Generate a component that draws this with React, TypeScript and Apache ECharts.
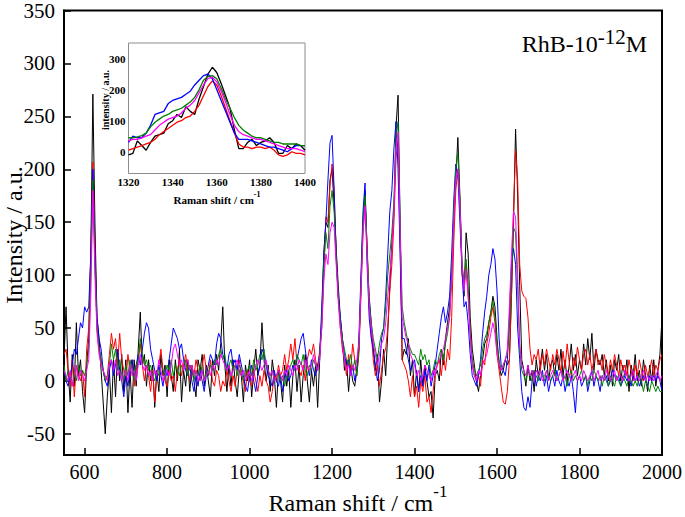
import React, { useEffect, useRef } from "react";
import * as echarts from "echarts";

// Main spectrum: Raman shift 550..2000 cm-1 sampled every 5 cm-1
const SHIFT_START = 550;
const SHIFT_STEP = 5;

const blackSpectrum = [
  20, 70, 10, -20, 25, -5, 55, 5, 20, -10,
  -30, 15, 40, 120, 271, 150, 60, 40, 10, -20,
  -50, -15, 10, -30, 20, -15, 30, 0, 25, -10,
  20, -30, 10, -25, 20, -5, 30, 65, 15, 25,
  -5, 20, 0, 15, -25, 10, -10, 25, 5, 15,
  -15, 20, 5, -10, 20, 0, 30, -20, 10, -5,
  20, -10, 15, 0, -15, 20, 10, 25, -5, 15,
  0, -15, 20, 5, 25, 10, 35, 70, 15, -10,
  15, -5, 20, 0, -15, 10, 5, -20, 15, 0,
  20, -15, 10, 30, 5, 15, 55, 20, 0, 15,
  -10, 20, 5, -25, 10, 0, -20, 15, -5, 10,
  -25, 5, 20, -10, 15, -20, 5, 25, 0, -20,
  10, -5, 15, -25, 20, 60, 120, 150, 145, 190,
  200, 165, 125, 90, 60, 40, 10, 20, -10, 15,
  0, -5, 10, 30, 90, 150, 180, 120, 80, 55,
  30, 10, 25, -20, 0, 30, 5, 45, 90, 130,
  160, 240, 270, 150, 20, 30, 25, 40, 5, 20,
  -15, 10, -10, 20, -5, 15, 0, -15, -10, -35,
  5, 10, 0, 30, 15, 40, 55, 70, 100, 150,
  190, 230, 175, 110, 80, 140, 120, 60, 30, 15,
  0, -10, 5, 20, 35, 40, 55, 65, 80, 70,
  40, 15, 5, 10, 20, 15, 20, 80, 150, 238,
  175, 90, 20, 10, -5, 15, 0, 10, -10, 20,
  5, 15, 30, 10, 25, 0, 15, 20, 5, 25,
  10, 30, 5, 20, 0, 15, 35, 10, 25, 5,
  20, 10, 35, 15, 40, 20, 45, 10, 30, 20,
  15, 25, 5, 20, 0, 15, -5, 20, 10, 25,
  0, 15, 5, 20, -10, 15, 5, 25, 0, 10,
  -5, 20, 5, -10, 15, 0, 20, -5, 10, 25,
  60,
];

const redSpectrum = [
  25, 30, 10, -5, 20, -15, 15, 5, 0, 10,
  -15, 30, 50, 120, 207, 130, 50, 30, 20, 10,
  0, 5, 25, 45, 30, 40, 15, 45, 20, 10,
  0, 25, 10, 20, -5, 10, 20, 35, 15, 0,
  15, 5, -10, 10, -20, 5, 15, 30, 10, 0,
  -5, 10, 0, 5, -10, 10, 20, 5, 15, 25,
  10, 0, 15, 5, 20, 10, 0, 15, 25, 10,
  5, 20, 0, -5, 10, 5, -10, 0, -5, 10,
  0, -10, 5, -5, 10, 20, 5, 0, -10, 10,
  0, -5, 10, 0, -10, 5, -5, 10, 0, -5,
  -20, -10, 5, 0, 15, 5, 10, 25, 10, 20,
  35, 20, 40, 15, 10, 5, 15, 0, 20, 30,
  25, 35, 20, 10, 30, 50, 100, 155, 150, 185,
  205, 180, 120, 80, 50, 30, 20, 5, 25, 10,
  35, 20, 5, 25, 80, 140, 170, 130, 70, 45,
  20, 5, 15, -5, 10, 25, 30, 50, 85, 110,
  150, 210, 228, 130, 20, 15, 10, 0, -15, 5,
  -15, -5, -25, 0, -10, 5, -20, -15, -30, -10,
  10, 15, 20, 5, 25, 10, 30, 20, 60, 130,
  180, 200, 170, 100, 90, 110, 80, 50, 15, 5,
  0, 5, -5, 20, 15, 35, 45, 60, 70, 55,
  25, 10, -5, -20, -22, -10, 20, 80, 160, 218,
  190, 110, 85, 80, 78, 60, 30, 15, 25, 20,
  30, 10, 25, 15, 30, 20, 10, 25, 15, 30,
  20, 8, 28, 12, 35, 18, 5, 22, 14, 32,
  20, 10, 25, 30, 15, 25, 10, 20, 30, 15,
  20, 10, 25, 15, 5, 20, 10, 25, 15, 5,
  20, 10, 15, 5, 20, 10, 0, 15, 5, 20,
  10, 0, 15, 5, 10, 20, 5, 15, 10, 20,
  25,
];

const blueSpectrum = [
  10, 0, -5, 5, 15, 30, 25, 40, 55, 50,
  70, 65, 70, 120, 200, 120, 60, 40, 30, 10,
  0, -5, 10, 20, 5, 15, 30, 10, 0, -15,
  5, -5, 10, 20, 5, 15, 25, 15, 30, 45,
  55, 50, 30, 20, 10, 0, 15, 5, -5, 10,
  5, 20, 35, 50, 45, 40, 30, 35, 20, 10,
  5, 15, 0, -10, 5, -5, 10, 0, -10, 5,
  15, 25, 20, 15, 35, 45, 40, 25, 20, 10,
  25, 30, 15, 20, 10, 25, 15, 5, -5, -10,
  5, 15, 0, -10, 5, 15, 30, 25, 15, 5,
  0, -5, 10, 0, -5, 5, -10, 5, 10, 0,
  5, 15, 10, 20, 30, 40, 45, 30, 15, 5,
  20, 10, 5, 15, 25, 70, 120, 150, 190, 225,
  232, 180, 120, 80, 60, 40, 25, 15, 20, 5,
  15, 0, 10, 40, 100, 160, 187, 110, 60, 40,
  30, 15, 0, 10, 40, 50, 80, 120, 160, 180,
  220, 245, 200, 120, 40, 40, 30, 20, 10, 15,
  20, 5, -10, 5, -5, 10, 0, 15, -5, 5,
  15, 30, 45, 60, 70, 55, 65, 80, 120, 170,
  205, 195, 150, 105, 70, 75, 55, 25, 5, 0,
  -5, 5, 20, 45, 65, 80, 100, 110, 125, 115,
  85, 40, 15, 10, 5, 20, 60, 110, 125, 110,
  50, 20, -10, -25, -28, -15, -25, 0, 10, -5,
  5, 0, 10, -5, 5, -10, 0, 5, -5, 10,
  0, -5, 5, -10, 0, -5, 5, -10, -30, 0,
  5, -5, 0, 5, -10, 0, 10, -5, 5, 0,
  -10, 5, 0, 5, -5, 0, 10, 5, 0, 5,
  -5, 0, 5, 0, 5, -5, 5, 0, 5, -5,
  0, 5, 0, -5, 5, 0, 5, 0, 5, 0,
  -10,
];

const greenSpectrum = [
  15, 0, 10, 5, -5, 10, 0, 15, 5, 10,
  5, 15, 30, 100, 190, 110, 50, 30, 20, 10,
  0, 5, 15, 35, 20, 30, 10, 20, 5, 0,
  15, 5, 20, 10, 0, 15, 20, 40, 25, 15,
  20, 10, 15, 5, 0, 10, 5, 15, 10, 5,
  15, 10, 20, 5, 15, 10, 5, 15, 10, 20,
  5, 15, 10, 0, 10, 5, 15, 10, 0, 10,
  5, 15, 10, 20, 15, 25, 30, 20, 25, 10,
  15, 20, 10, 15, 5, 15, 10, 0, 5, 10,
  15, 5, 20, 10, 15, 25, 20, 30, 15, 10,
  5, 10, 0, 5, 10, 0, 5, -5, 5, 10,
  15, 20, 10, 25, 20, 15, 25, 10, 5, 15,
  10, 20, 15, 10, 25, 55, 110, 140, 125, 165,
  180, 160, 115, 80, 55, 40, 30, 20, 15, 25,
  10, 20, 5, 30, 90, 150, 175, 125, 75, 55,
  40, 30, 20, 35, 45, 50, 70, 100, 120, 140,
  170, 230, 245, 150, 70, 55, 45, 35, 30, 25,
  25, 20, 15, 30, 20, 25, 15, 20, 5, 10,
  20, 15, 25, 30, 20, 35, 45, 60, 100, 160,
  200, 215, 170, 110, 95, 115, 90, 45, 20, 10,
  5, 10, 15, 30, 40, 45, 55, 65, 75, 60,
  35, 20, 10, 15, 20, 25, 50, 100, 145, 140,
  90, 30, 10, 5, 0, 10, 5, 0, 10, 5,
  0, 10, 5, 0, 10, 5, 0, 5, 10, 0,
  5, 10, 0, 5, -5, 5, 10, 0, 5, 0,
  5, 10, 0, 5, -5, 5, 0, 10, 5, 0,
  5, -5, 5, 0, -5, 5, 0, -5, 5, 0,
  -5, 5, 0, -5, 5, 0, -5, 0, -5, 5,
  0, -10, 0, -5, -10, 0, -5, -10, -5, -10,
  -10,
];

const magentaSpectrum = [
  10, 5, 0, 10, -5, 5, 15, 0, 10, 5,
  0, 10, 20, 80, 180, 100, 45, 25, 15, 10,
  5, 0, 15, 20, 10, 20, 5, 10, 0, 5,
  10, 0, 15, 5, 10, 0, 15, 25, 15, 10,
  15, 5, 10, 0, 10, 5, 20, 10, 0, 5,
  10, 5, 15, 30, 35, 25, 15, 20, 10, 15,
  20, 10, 15, 5, 10, 0, 5, 10, 0, 5,
  10, 5, 15, 10, 20, 15, 25, 20, 15, 10,
  15, 5, 10, 15, 20, 10, 5, 10, 0, 5,
  10, 0, 5, 15, 20, 15, 10, 15, 20, 10,
  5, 10, 0, 5, 10, 5, 0, 10, 5, 15,
  10, 5, 15, 10, 20, 15, 10, 20, 15, 10,
  15, 25, 15, 10, 20, 50, 95, 120, 110, 140,
  150, 145, 110, 75, 50, 35, 20, 10, 15, 5,
  15, 10, 20, 35, 85, 140, 165, 115, 70, 50,
  35, 25, 15, 25, 35, 40, 55, 80, 100, 125,
  160, 220, 235, 140, 60, 50, 40, 35, 25, 20,
  15, 5, 10, 0, 5, 15, 10, 5, 0, 10,
  5, 15, 20, 25, 30, 40, 50, 60, 95, 150,
  190, 200, 165, 110, 85, 105, 80, 40, 15, 5,
  0, 10, 5, 15, 20, 25, 35, 45, 55, 45,
  25, 15, 10, 15, 20, 30, 70, 120, 160, 155,
  100, 35, 15, 10, 5, 15, 5, 10, 0, 10,
  5, 10, 0, 5, 10, 0, 5, 10, 5, 0,
  5, 10, 0, 5, 10, 5, 0, 5, 10, 0,
  5, 0, 10, 5, 0, 5, 10, 0, 5, 10,
  0, 5, 0, 10, 5, 0, 5, 10, 0, 5,
  5, 0, 10, 5, 0, 5, 10, 0, 5, 0,
  5, 10, 0, 5, 0, 5, 0, 5, 10, 0,
  5,
];

// Inset: 1320..1400 cm-1 sampled every 2 cm-1
const INSET_START = 1320;
const INSET_STEP = 2;

const blackInset = [
  -10, -5, 35, 20, 5, 30, 50, 55, 60, 90,
  100, 120, 110, 145, 130, 120, 170, 210, 250, 272,
  255, 220, 180, 140, 70, 10, 10, 30, 40, 20,
  30, 35, 45, 30, -5, -5, 20, 10, 25, 20,
  5,
];
const redInset = [
  5, 10, 15, 20, 25, 30, 40, 55, 65, 75,
  85, 95, 100, 110, 115, 130, 150, 180, 210, 228,
  215, 180, 140, 100, 60, 25, 15, 15, 10, 15,
  15, 10, 15, 5, -10, -15, -10, 0, -5, -5,
  -10,
];
const blueInset = [
  30, 50, 45, 45, 60, 85, 120, 125, 130, 155,
  165, 170, 175, 185, 195, 215, 230, 245, 250, 235,
  200, 165, 130, 95, 60, 40, 40, 40, 35, 30,
  25, 20, 15, 15, 10, 5, 0, 10, 20, 20,
  20,
];
const greenInset = [
  45, 45, 48, 52, 60, 80, 95, 105, 115, 120,
  130, 135, 140, 150, 160, 175, 200, 230, 242, 245,
  235, 205, 170, 140, 110, 85, 70, 60, 50, 45,
  45, 40, 35, 30, 30, 25, 25, 25, 25, 20,
  20,
];
const magentaInset = [
  35, 40, 40, 45, 50, 55, 70, 85, 95, 105,
  110, 115, 125, 140, 150, 165, 190, 215, 235, 240,
  225, 195, 160, 120, 85, 65, 55, 50, 45, 40,
  40, 35, 30, 25, 20, 15, 10, 10, 10, 5,
  0,
];

const mainXTicks = [600, 800, 1000, 1200, 1400, 1600, 1800, 2000];
const mainYTicks = [-50, 0, 50, 100, 150, 200, 250, 300, 350];
const insetYTicks = [0, 100, 200, 300];

const seriesColors = ["#000000", "#ff0000", "#0000ff", "#008000", "#ff00ff"];

const SERIF = '"Liberation Serif", "Times New Roman", serif';

function pair(values: number[], start: number, step: number) {
  return values.map((v, i) => [start + i * step, v]);
}

const plain = (v: number) => String(v);

export default function App() {
  const ref = useRef<HTMLDivElement>(null);
  useEffect(() => {
    if (!ref.current) return;
    const chart = echarts.init(ref.current, null, { renderer: "svg" });
    const mainSets = [blackSpectrum, redSpectrum, blueSpectrum, greenSpectrum, magentaSpectrum];
    const insetSets = [blackInset, redInset, blueInset, greenInset, magentaInset];

    const series: any[] = [];
    mainSets.forEach((vals, k) => {
      series.push({
        type: "line",
        xAxisIndex: 0,
        yAxisIndex: 0,
        data: pair(vals, SHIFT_START, SHIFT_STEP),
        showSymbol: false,
        symbol: "none",
        lineStyle: { color: seriesColors[k], width: 1 },
        itemStyle: { color: seriesColors[k] },
        z: 2 + k * 0.01,
      });
    });
    insetSets.forEach((vals, k) => {
      series.push({
        type: "line",
        xAxisIndex: 1,
        yAxisIndex: 1,
        data: pair(vals, INSET_START, INSET_STEP),
        showSymbol: false,
        symbol: "none",
        lineStyle: { color: seriesColors[k], width: 1.3 },
        itemStyle: { color: seriesColors[k] },
        z: 10,
      });
    });

    chart.setOption({
      animation: false,
      backgroundColor: "#ffffff",
      grid: [
        { left: 64, right: 20, top: 8, bottom: 62, show: true, borderColor: "#000", borderWidth: 2, z: 0 },
        {
          left: 128.5, top: 43, width: 176.5, height: 130.5,
          show: true, borderColor: "#8c8c8c", borderWidth: 1, backgroundColor: "#ffffff", z: 5,
        },
      ],
      xAxis: [
        {
          gridIndex: 0, type: "value", min: 550, max: 2000,
          axisLine: { show: true, onZero: false, lineStyle: { color: "#000", width: 2 } },
          axisTick: { show: true, inside: true, length: 7, lineStyle: { color: "#000", width: 1.5 }, customValues: mainXTicks },
          axisLabel: { customValues: mainXTicks, formatter: plain, fontFamily: SERIF, fontSize: 20, color: "#000", margin: 7 },
          splitLine: { show: false },
        },
        {
          gridIndex: 1, type: "value", min: 1320, max: 1400, interval: 20,
          axisLine: { show: false, onZero: false },
          axisTick: { show: false },
          axisLabel: { formatter: plain, fontFamily: SERIF, fontSize: 11, fontWeight: "bold", color: "#000", margin: 3 },
          splitLine: { show: false },
        },
      ],
      yAxis: [
        {
          gridIndex: 0, type: "value", min: -70, max: 350,
          axisLine: { show: true, onZero: false, lineStyle: { color: "#000", width: 2 } },
          axisTick: { show: true, inside: true, length: 7, lineStyle: { color: "#000", width: 1.5 }, customValues: mainYTicks },
          axisLabel: { customValues: mainYTicks, formatter: plain, fontFamily: SERIF, fontSize: 21, color: "#000", margin: 9 },
          splitLine: { show: false },
        },
        {
          gridIndex: 1, type: "value", min: -70, max: 350,
          axisLine: { show: false, onZero: false },
          axisTick: { show: false },
          axisLabel: { customValues: insetYTicks, formatter: plain, fontFamily: SERIF, fontSize: 11, fontWeight: "bold", color: "#000", margin: 3 },
          splitLine: { show: false },
        },
      ],
      graphic: [
        {
          type: "text", x: 14, y: 235, rotation: Math.PI / 2, z: 20,
          style: { text: "Intensity / a.u.", fontFamily: SERIF, fontSize: 24, fill: "#000", align: "center", verticalAlign: "middle" },
        },
        {
          type: "text", x: 358, y: 499, z: 20,
          style: {
            text: "{a|Raman shift / cm}{b|-1}",
            align: "center", verticalAlign: "middle",
            rich: {
              a: { fontFamily: SERIF, fontSize: 24, fill: "#000", color: "#000", lineHeight: 32, verticalAlign: "bottom" },
              b: { fontFamily: SERIF, fontSize: 17, fill: "#000", color: "#000", lineHeight: 8, verticalAlign: "top" },
            },
          },
        },
        {
          type: "text", x: 647, y: 41, z: 20,
          style: {
            text: "{a|RhB-10}{b|-12}{a|M}",
            align: "right", verticalAlign: "middle",
            rich: {
              a: { fontFamily: SERIF, fontSize: 24, fill: "#000", color: "#000", lineHeight: 30, verticalAlign: "bottom" },
              b: { fontFamily: SERIF, fontSize: 21, fill: "#000", color: "#000", lineHeight: 10, verticalAlign: "top" },
            },
          },
        },
        {
          type: "text", x: 105, y: 100, rotation: Math.PI / 2, z: 20,
          style: { text: "intensity / a.u.", fontFamily: SERIF, fontSize: 10, fontWeight: "bold", fill: "#000", align: "center", verticalAlign: "middle" },
        },
        {
          type: "text", x: 217, y: 198, z: 20,
          style: {
            text: "{a|Raman shift / cm}{b|-1}",
            align: "center", verticalAlign: "middle",
            rich: {
              a: { fontFamily: SERIF, fontSize: 11, fontWeight: "bold", fill: "#000", color: "#000", lineHeight: 15, verticalAlign: "bottom" },
              b: { fontFamily: SERIF, fontSize: 8, fontWeight: "bold", fill: "#000", color: "#000", lineHeight: 6, verticalAlign: "top" },
            },
          },
        },
      ],
      series,
    });
    return () => chart.dispose();
  }, []);
  return <div ref={ref} style={{ position: "fixed", left: 0, top: 0, width: 685, height: 517 }} />;
}
